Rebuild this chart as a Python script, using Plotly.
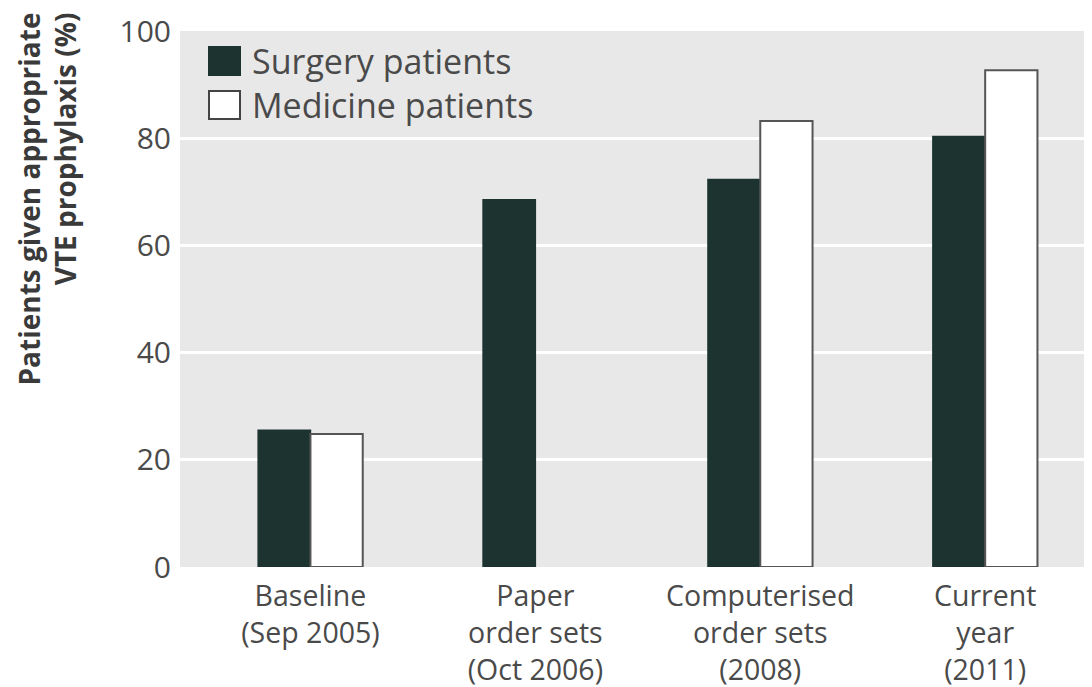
import plotly.graph_objects as go

categories = ["Baseline<br>(Sep 2005)", "Paper<br>order sets<br>(Oct 2006)",
              "Computerised<br>order sets<br>(2008)", "Current<br>year<br>(2011)"]
surgery = [25.5, 68.5, 72.3, 80.3]
medicine = [24.8, None, 83.2, 92.7]
series_names = ["Surgery patients", "Medicine patients"]
y_ticks = [0, 20, 40, 60, 80, 100]
y_title = "<b>Patients given appropriate</b><br><b>VTE prophylaxis (%)</b>"

DARK = "#1c3330"
TXT = "#4a4a4a"
FONT = "Open Sans, Noto Sans, sans-serif"

# the page shows the figure offset by 8px (body margin); compensate
OFF = 8
L, T, W, H = 180 - OFF, 31 - OFF, 912, 536
B = 687 - (T + H)
R = 1092 - (L + W)

fig = go.Figure()
fig.add_trace(go.Bar(x=categories, y=surgery, name=series_names[0],
                     marker=dict(color=DARK, line=dict(color=DARK, width=1.5))))
fig.add_trace(go.Bar(x=categories, y=medicine, name=series_names[1],
                     marker=dict(color="white", line=dict(color="#555555", width=2))))


def px_x(x):
    return (x - OFF - L) / W


def px_y(y):
    return 1 - (y - OFF - T) / H


# custom legend
for i, (nm, fc, lc) in enumerate(zip(series_names, [DARK, "white"], [DARK, "#444444"])):
    yc = 61 + 44 * i
    fig.add_shape(type="rect", xref="paper", yref="paper",
                  x0=px_x(209), x1=px_x(240),
                  y0=px_y(yc + 14), y1=px_y(yc - 14),
                  fillcolor=fc, line=dict(color=lc, width=2), layer="above")
    fig.add_annotation(xref="paper", yref="paper", x=px_x(250),
                       y=px_y(yc), text=nm, showarrow=False,
                       xanchor="left", yanchor="middle",
                       font=dict(size=34, color=TXT, family=FONT))

# y-axis title (right-aligned lines, ending near the top)
fig.add_annotation(xref="paper", yref="paper", x=px_x(7), y=px_y(11),
                   text=y_title, showarrow=False, textangle=-90, align="right",
                   xanchor="left", yanchor="top",
                   font=dict(size=28, color="#3a3a3a", family=FONT))

fig.update_layout(
    width=1092, height=687,
    margin=dict(l=L, r=R, t=T, b=B, autoexpand=False),
    paper_bgcolor="white", plot_bgcolor="#e8e8e8",
    barmode="group", bargap=0.535, bargroupgap=0,
    showlegend=False,
    font=dict(family=FONT, color=TXT, size=30),
    xaxis=dict(showgrid=False, ticks="", tickfont=dict(size=28.5, color=TXT),
               range=[-0.58, 3.475], showline=False, zeroline=False,
               ticklabelstandoff=9, automargin=False),
    yaxis=dict(range=[0, 100], tickvals=y_ticks, showgrid=True,
               gridcolor="white", gridwidth=3, zeroline=False,
               tickfont=dict(size=30, color=TXT), ticks="", ticklen=0,
               ticklabelstandoff=8, automargin=False),
)

fig.write_html("out.html")
